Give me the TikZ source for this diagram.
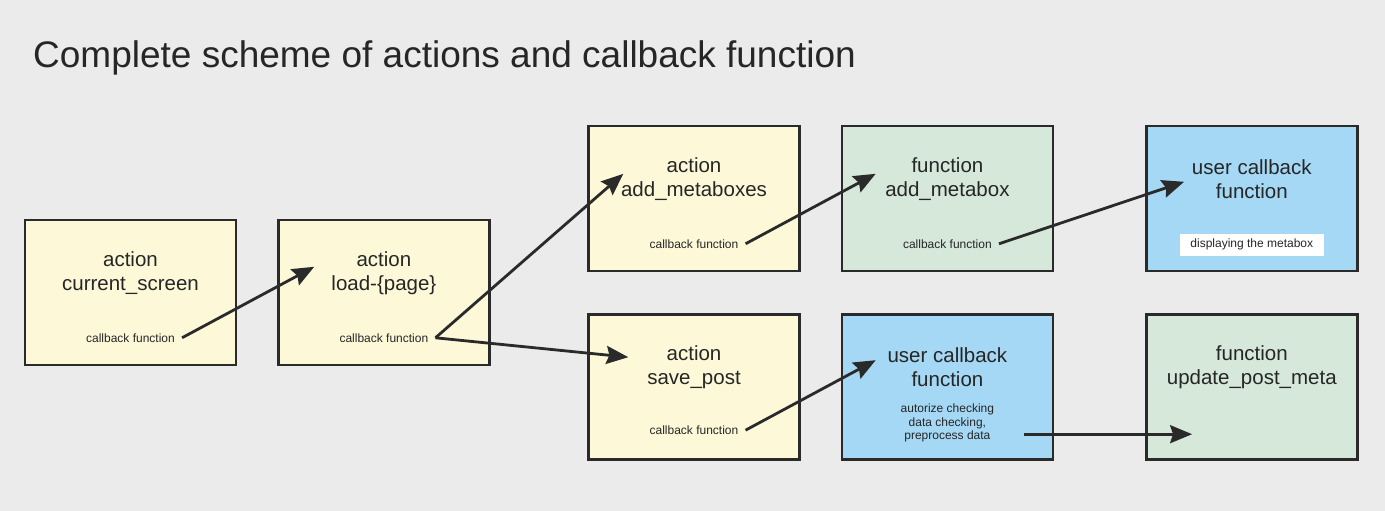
\documentclass[tikz,border=0pt]{standalone}
\usepackage{fontspec}
\setmainfont{Liberation Sans}
\usetikzlibrary{
  arrows.meta,
  positioning,
  calc
}
\definecolor{cbBack}{HTML}{EBEBEB}
\definecolor{cbLine}{HTML}{2A2A2A}
\definecolor{cbText}{HTML}{262626}
\definecolor{cbAction}{HTML}{FDF9D8}
\definecolor{cbFunc}{HTML}{D5E8D9}
\definecolor{cbUser}{HTML}{A4D8F4}
\tikzset{
  cbbox/.style={
    draw=cbLine, line width=2.4pt, minimum width=211pt, minimum height=145pt,
    inner sep=0pt
  },
  cbaction/.style={cbbox, fill=cbAction},
  cbfunc/.style={cbbox, fill=cbFunc},
  cbuser/.style={cbbox, fill=cbUser},
  cbtitle/.style={font=\fontsize{37}{41}\selectfont, text=cbText, inner sep=0pt},
  cbhead/.style={font=\fontsize{20.5}{24}\selectfont, align=center, text=cbText},
  cbsub/.style={font=\fontsize{12}{14}\selectfont, text=cbText, inner xsep=7pt},
  cbnote/.style={font=\fontsize{12}{13.5}\selectfont, text=cbText, align=center},
  cbtag/.style={cbnote, fill=white, minimum width=144pt, minimum height=22pt, inner sep=0pt},
  cbflow/.style={-{Stealth[length=22pt, width=18pt, inset=3pt]}, line width=2.8pt, cbLine}
}

\begin{document}
\begin{tikzpicture}[x=1pt, y=1pt, node distance=40pt]
  \fill[cbBack] (0,0) rectangle (1385,511);
  \useasboundingbox (0,0) rectangle (1385,511);
  \node[cbtitle, anchor=base west] (title) at (33,443) {Complete scheme of actions and callback function};

  % first two actions
  \node[cbaction] (cs) at (130.5,218.5) {};
  \node[cbaction, right=of cs] (load) {};
  % upper row
  \node[cbaction] (addmb) at (694,312.5) {};
  \node[cbfunc, right=of addmb] (fadd) {};
  \node[cbuser, right=91pt of fadd] (ucb1) {};
  % lower row
  \node[cbaction, below=41pt of addmb] (save) {};
  \node[cbuser, right=of save] (ucb2) {};
  \node[cbfunc, right=91pt of ucb2] (upm) {};

  % box texts
  \node[cbhead] (cs-t) at ([yshift=-54pt]cs.north) {action\\current\_screen};
  \node[cbhead] (load-t) at ([yshift=-54pt]load.north) {action\\load-\{page\}};
  \node[cbhead] (addmb-t) at ([yshift=-54pt]addmb.north) {action\\add\_metaboxes};
  \node[cbhead] (fadd-t) at ([yshift=-54pt]fadd.north) {function\\add\_metabox};
  \node[cbhead] (ucb1-t) at ([yshift=-54pt]ucb1.north) {user callback\\function};
  \node[cbhead] (save-t) at ([yshift=-54pt]save.north) {action\\save\_post};
  \node[cbhead] (ucb2-t) at ([yshift=-54pt]ucb2.north) {user callback\\function};
  \node[cbhead] (upm-t) at ([yshift=-54pt]upm.north) {function\\update\_post\_meta};

  \node[cbsub] (cs-cb) at ([yshift=-119pt]cs.north) {callback function};
  \node[cbsub] (load-cb) at ([yshift=-119pt]load.north) {callback function};
  \node[cbsub] (addmb-cb) at ([yshift=-119pt]addmb.north) {callback function};
  \node[cbsub] (fadd-cb) at ([yshift=-119pt]fadd.north) {callback function};
  \node[cbsub] (save-cb) at ([yshift=-117pt]save.north) {callback function};
  \node[cbtag] (ucb1-n) at ([yshift=-120pt]ucb1.north) {displaying the metabox};
  \node[cbnote] (ucb2-n) at ([yshift=-110pt]ucb2.north) {autorize checking\\data checking,\\preprocess data};

  % arrow ends
  \coordinate (load-in) at ($(load.north west)+(37,-48)$);
  \coordinate (addmb-in) at ($(addmb.north west)+(36,-49)$);
  \coordinate (save-in) at ($(save.north west)+(41,-44)$);
  \coordinate (fadd-in) at ($(fadd.north west)+(35,-49)$);
  \coordinate (ucb1-in) at ($(ucb1.north west)+(39,-57)$);
  \coordinate (ucb2-in) at ($(ucb2.north west)+(35,-47)$);
  \coordinate (ucb2-out) at ($(ucb2.north west)+(183,-121)$);
  \coordinate (upm-in) at ($(upm.north west)+(47,-121)$);

  \draw[cbflow] (cs-cb.east) -- (load-in);
  \draw[cbflow] (load-cb.east) -- (addmb-in);
  \draw[cbflow] (load-cb.east) -- (save-in);
  \draw[cbflow] (addmb-cb.east) -- (fadd-in);
  \draw[cbflow] (fadd-cb.east) -- (ucb1-in);
  \draw[cbflow] (save-cb.east) -- (ucb2-in);
  \draw[cbflow] (ucb2-out) -- (upm-in);
\end{tikzpicture}
\end{document}
